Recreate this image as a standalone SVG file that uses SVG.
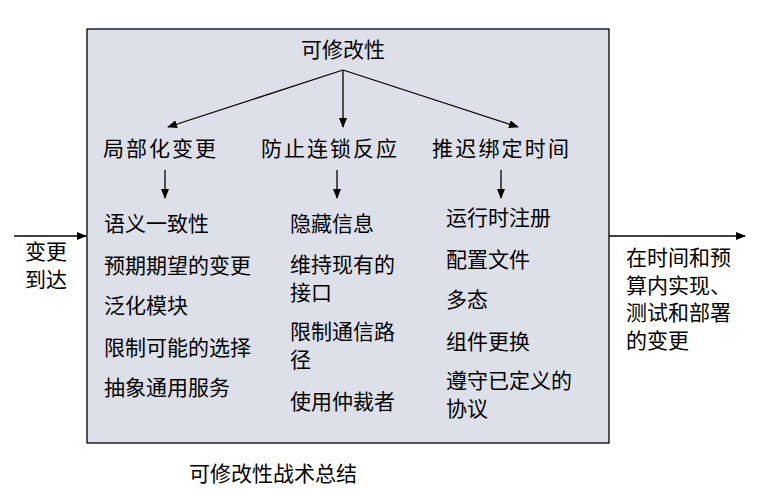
<svg xmlns="http://www.w3.org/2000/svg" width="773" height="491" viewBox="0 0 773 491">
<style>
text{font-family:"Noto Sans CJK SC","Liberation Serif",serif;font-size:21px;fill:#000}
.c{stroke:#000;stroke-width:1.3;fill:none;marker-end:url(#a)}
</style>
<defs><marker id="a" markerWidth="10" markerHeight="8" refX="9" refY="4" orient="auto" markerUnits="userSpaceOnUse"><path d="M0,0L10,4L0,8z" fill="#000"/></marker></defs>
<rect width="773" height="491" fill="#fff"/>
<g id="box"><rect x="87" y="29" width="522" height="414" fill="#dde0e8" stroke="#000" stroke-width="1.3"/></g>
<g id="connectors">
<path class="c" d="M343,70L168,127"/><path class="c" d="M343,70L343,127"/><path class="c" d="M343,70L518,127"/>
<path class="c" d="M165,170L165,198"/><path class="c" d="M337,170L337,198"/><path class="c" d="M501,170L501,198"/>
<path class="c" d="M14,236L86,236"/><path class="c" d="M609,236L745,236"/>
</g>
<g id="root"><text x="343" y="57" text-anchor="middle">可修改性</text></g>
<g id="h1"><text x="103" y="156" textLength="113">局部化变更</text></g>
<g id="h2"><text x="261" y="156" textLength="136">防止连锁反应</text></g>
<g id="h3"><text x="432" y="156" textLength="137">推迟绑定时间</text></g>
<g id="col1"><text x="104" y="231">语义一致性</text><text x="104" y="273">预期期望的变更</text><text x="104" y="313">泛化模块</text><text x="104" y="355">限制可能的选择</text><text x="104" y="395">抽象通用服务</text></g>
<g id="col2"><text x="290" y="231">隐藏信息</text><text x="290" y="272">维持现有的</text><text x="290" y="300">接口</text><text x="290" y="339">限制通信路</text><text x="290" y="367">径</text><text x="290" y="409">使用仲裁者</text></g>
<g id="col3"><text x="446" y="225">运行时注册</text><text x="446" y="267">配置文件</text><text x="446" y="307">多态</text><text x="446" y="349">组件更换</text><text x="446" y="388">遵守已定义的</text><text x="446" y="416">协议</text></g>
<g id="in"><text x="25" y="259">变更</text><text x="25" y="287">到达</text></g>
<g id="out"><text x="626" y="265">在时间和预</text><text x="626" y="293">算内实现、</text><text x="626" y="320">测试和部署</text><text x="626" y="348">的变更</text></g>
<g id="caption"><text x="273" y="481" text-anchor="middle">可修改性战术总结</text></g>
</svg>
